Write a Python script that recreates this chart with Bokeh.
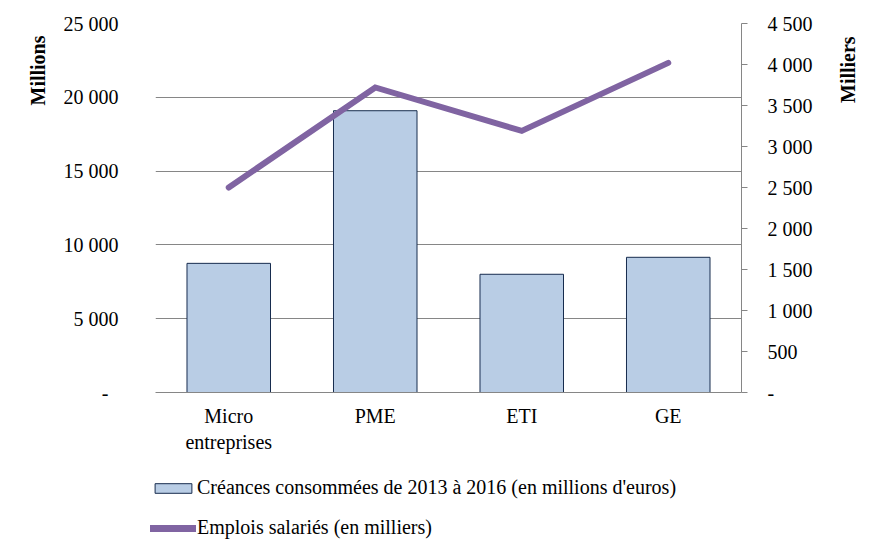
import math
from bokeh.plotting import figure
from bokeh.layouts import column
from bokeh.models import Range1d, LinearAxis, FixedTicker, Legend, LegendItem
from bokeh.embed import file_html
from bokeh.resources import INLINE

# ---- data ----
categories = ["Micro\nentreprises", "PME", "ETI", "GE"]
creances = [8750, 19090, 8010, 9160]          # millions d'euros (left axis)
emplois = [2500, 3720, 3190, 4020]            # milliers (right axis)
left_ticks = [0, 5000, 10000, 15000, 20000, 25000]
left_tick_labels = ["-\u00a0\u00a0", "5 000", "10 000", "15 000", "20 000", "25 000"]
right_ticks = [0, 500, 1000, 1500, 2000, 2500, 3000, 3500, 4000, 4500]
right_tick_labels = ["-", "500", "1 000", "1 500", "2 000", "2 500", "3 000", "3 500", "4 000", "4 500"]
bar_name = "Créances consommées de 2013 à 2016 (en millions d'euros)"
line_name = "Emplois salariés (en milliers)"
left_title = "Millions"
right_title = "Milliers"

FONT = "Liberation Serif"
FS = "20px"
GRAY = "#868686"
NB = "\u00a0"
BAR_FILL = "#B9CDE5"
BAR_LINE = "#172C4E"
LINE_COLOR = "#8064A2"

p = figure(x_range=categories, y_range=Range1d(0, 25000),
           frame_width=586, frame_height=369,
           min_border_left=155, min_border_right=129,
           min_border_top=23, min_border_bottom=70,
           output_backend="svg", toolbar_location=None)
p.outline_line_color = None
p.background_fill_color = "white"
p.extra_y_ranges = {"right": Range1d(0, 4500)}

bars = p.vbar(x=categories, top=creances, width=0.57,
              fill_color=BAR_FILL, line_color=BAR_LINE, line_width=1)
line = p.line(x=categories, y=emplois, y_range_name="right",
              line_color=LINE_COLOR, line_width=6,
              line_cap="round", line_join="miter")

# left axis
ya = p.yaxis[0]
ya.ticker = FixedTicker(ticks=left_ticks)
ya.major_label_overrides = {t: l for t, l in zip(left_ticks, left_tick_labels)}
ya.axis_line_color = None
ya.major_tick_line_color = None
ya.minor_tick_line_color = None
ya.major_tick_out = 0
ya.major_tick_in = 0
ya.major_label_standoff = 37
ya.major_label_text_font = FONT
ya.major_label_text_font_size = FS
ya.major_label_text_color = "black"
ya.axis_label = NB * 55 + left_title
ya.axis_label_text_font = FONT
ya.axis_label_text_font_size = FS
ya.axis_label_text_font_style = "bold"
ya.axis_label_text_color = "black"
ya.axis_label_standoff = 12
ya.axis_label_align = "center"

p.ygrid.ticker = FixedTicker(ticks=left_ticks)
p.ygrid.grid_line_color = GRAY
p.ygrid.grid_line_width = 1
p.xgrid.grid_line_color = None

# bottom axis
xa = p.xaxis[0]
xa.axis_line_color = GRAY
xa.major_tick_line_color = None
xa.minor_tick_line_color = None
xa.major_tick_out = 0
xa.major_tick_in = 0
xa.major_label_standoff = 12
xa.major_label_text_font = FONT
xa.major_label_text_font_size = FS
xa.major_label_text_color = "black"

# right axis
ra = LinearAxis(y_range_name="right", ticker=FixedTicker(ticks=right_ticks))
ra.major_label_overrides = {t: l for t, l in zip(right_ticks, right_tick_labels)}
ra.axis_line_color = GRAY
ra.major_tick_line_color = GRAY
ra.minor_tick_line_color = None
ra.major_tick_out = 6
ra.major_tick_in = 0
ra.major_label_standoff = 20
ra.major_label_text_font = FONT
ra.major_label_text_font_size = FS
ra.major_label_text_color = "black"
ra.axis_label = NB * 21 + right_title
ra.axis_label_text_font = FONT
ra.axis_label_text_font_size = FS
ra.axis_label_text_font_style = "bold"
ra.axis_label_text_color = "black"
ra.axis_label_standoff = 32
ra.axis_label_orientation = math.pi / 2
ra.axis_label_align = "center"
p.add_layout(ra, "right")

# legend strip below the chart (proxy renderers placed outside the visible range)
p2 = figure(x_range=Range1d(0, 1), y_range=Range1d(0, 1),
            frame_width=870, frame_height=79,
            min_border_left=0, min_border_top=0,
            min_border_right=0, min_border_bottom=0,
            x_axis_location=None, y_axis_location=None,
            output_backend="svg", toolbar_location=None)
p2.outline_line_color = None
p2.xgrid.grid_line_color = None
p2.ygrid.grid_line_color = None
lb = p2.vbar(x=[5], top=[5], bottom=[4], width=0.5,
             fill_color=BAR_FILL, line_color=BAR_LINE, line_width=1)
ll = p2.line(x=[5, 6], y=[5, 5], line_color=LINE_COLOR, line_width=7, line_cap="round")

legend = Legend(items=[LegendItem(label=bar_name, renderers=[lb]),
                       LegendItem(label=line_name, renderers=[ll])],
                location=(150, 2), orientation="vertical",
                border_line_color=None, background_fill_alpha=0,
                padding=0, margin=0, spacing=17,
                glyph_width=46, glyph_height=12, label_standoff=1,
                label_height=22,
                label_text_font=FONT, label_text_font_size=FS,
                label_text_color="black")
p2.add_layout(legend)

open("out.html", "w").write(file_html(column(p, p2, spacing=0), INLINE))
